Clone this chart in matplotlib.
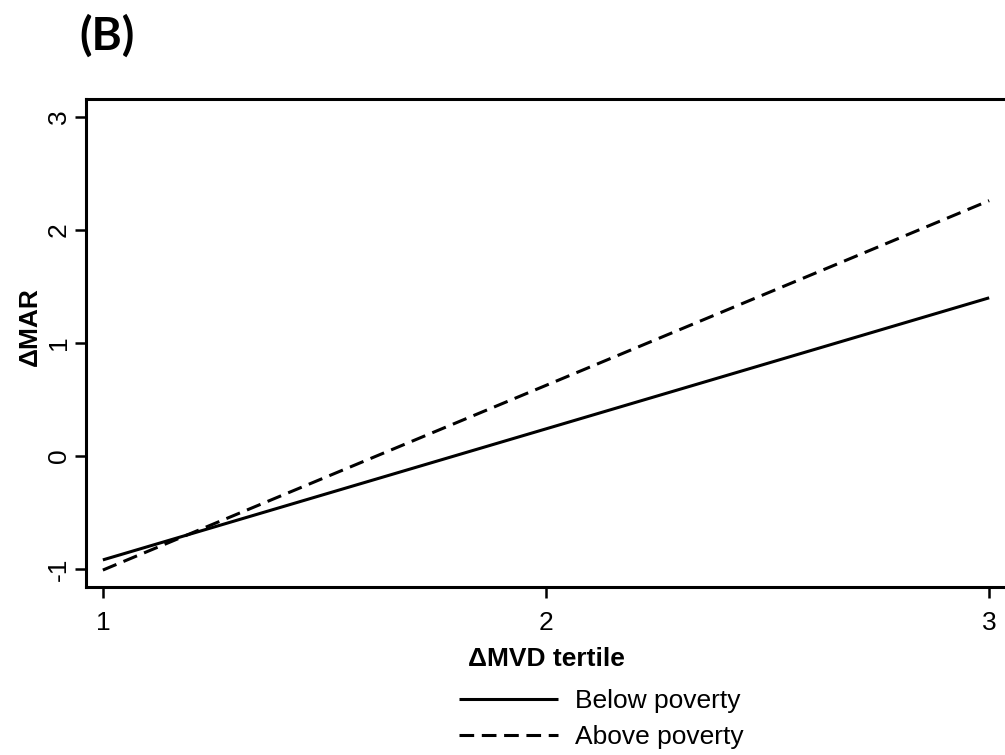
import matplotlib
matplotlib.use('Agg')
import matplotlib.pyplot as plt

# predicted change in MAR by MVD tertile
tertile = [1, 2, 3]
below_poverty = [-0.92, 0.24, 1.40]
above_poverty = [-1.01, 0.625, 2.26]
y_ticks = [-1, 0, 1, 2, 3]
x_ticks = [1, 2, 3]

plt.rcParams['font.family'] = ['Liberation Sans', 'DejaVu Sans']

fig = plt.figure(figsize=(10.05, 7.55), dpi=100)
ax = fig.add_axes([0.0856, 0.2225, 0.9154, 0.6464])

lw = 2.2
ax.plot(tertile, below_poverty, color='black', lw=lw, solid_capstyle='butt',
        label='Below poverty')
ax.plot(tertile, above_poverty, color='black', lw=lw, dashes=(4.8, 2.5),
        dash_capstyle='butt', label='Above poverty')

ax.set_xlim(0.962, 3.038)
ax.set_ylim(-1.16, 3.16)
ax.set_xticks(x_ticks)
ax.set_yticks(y_ticks)
ax.set_xticklabels([str(t) for t in x_ticks])
ax.set_yticklabels([str(t) for t in y_ticks])

for s in ax.spines.values():
    s.set_linewidth(2.2)

ax.tick_params(axis='both', length=8, width=1.8, labelsize=19, color='black')
ax.tick_params(axis='x', pad=9)
ax.tick_params(axis='y', pad=3, labelrotation=90)
for lab in ax.get_yticklabels():
    lab.set_va('center')

ax.set_xlabel('ΔMVD tertile', fontsize=19, fontweight='bold', labelpad=9)
fig.text(30 / 1005, 1 - 327 / 755, 'ΔMAR', rotation=90, ha='center',
         va='center', fontsize=19, fontweight='bold')

fig.text(79 / 1005, 1 - 36 / 755, '(B)', ha='left', va='center',
         fontsize=33, fontweight='bold', family=['Lato', 'DejaVu Sans'])

fig.legend(loc='upper left', bbox_to_anchor=(459 / 1005, 1 - 689 / 755),
           frameon=False, fontsize=19, handlelength=3.75, handletextpad=0.65,
           labelspacing=0.45, borderpad=0, borderaxespad=0)

fig.savefig('out.png', dpi=100)
